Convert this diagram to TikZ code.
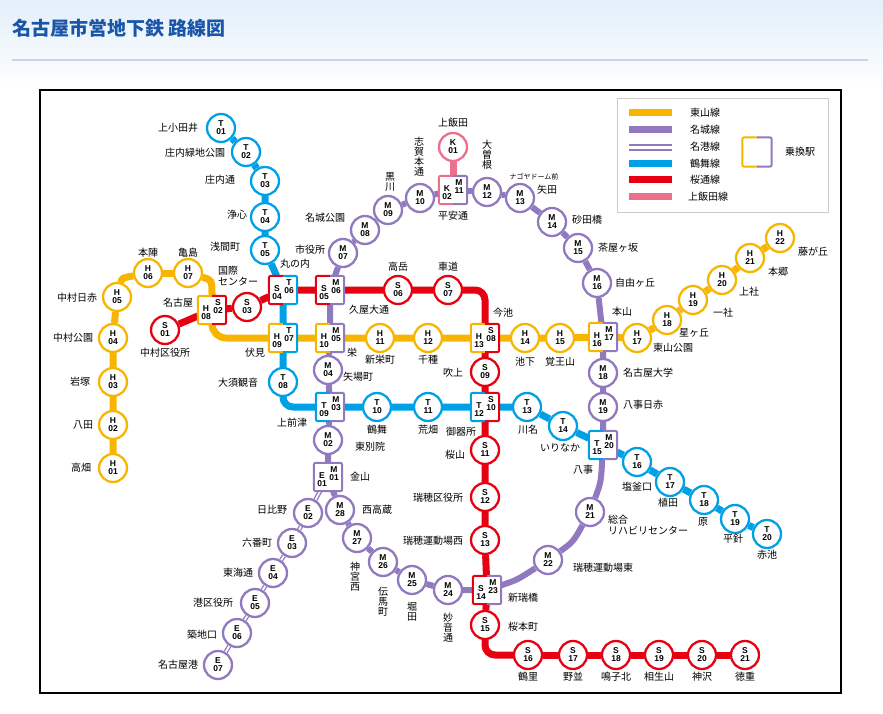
\documentclass[tikz,border=0pt]{standalone}
\usepackage{fontspec}
\setmainfont{Noto Sans CJK JP}
\newfontfamily\codefont{Liberation Sans}[BoldFont={Liberation Sans Bold}]
\usetikzlibrary{backgrounds}
\definecolor{cY}{HTML}{F8B500}
\definecolor{cP}{HTML}{9079BE}
\definecolor{cB}{HTML}{00A0E6}
\definecolor{cR}{HTML}{E60012}
\definecolor{cK}{HTML}{EC6F8C}
\definecolor{cT}{HTML}{1A56A8}
\definecolor{cH}{HTML}{E3EFFA}
\tikzset{
 stc/.style={circle,minimum size=28pt,inner sep=0pt,line width=2.3pt,fill=white,align=center,font=\codefont\bfseries\fontsize{8.5}{8}\selectfont},
 xbox/.style={rectangle,minimum size=28pt,inner sep=0pt,fill=white,rounded corners=2pt},
 xhalf/.style={line width=2pt,rounded corners=2pt},
 ctxt/.style={inner sep=0pt,font=\codefont\bfseries\fontsize{8.5}{8}\selectfont},
 lbl/.style={inner sep=0pt,align=center,font=\fontsize{10}{11}\selectfont},
 vlbl/.style={inner sep=0pt,align=center,font=\fontsize{10}{10}\selectfont},
 rt/.style={line width=7pt},
 rtt/.style={line width=6pt},
 meiko/.style={draw=cP,line width=1.3pt,double=white,double distance=1.8pt},
}
\newcommand\stn[6]{\node[stc,draw=#2] (#1) at (#3,#4) {#5\\#6};}
\newcommand\xst[9]{%
 \node[xbox] (#1) at (#2,#3) {};
 \draw[xhalf,#4] (#1.north) -- (#1.north west) -- (#1.south west) -- (#1.south);
 \draw[xhalf,#5] (#1.north) -- (#1.north east) -- (#1.south east) -- (#1.south);
 \node[ctxt] (#1a) at ([shift={(-6,-1)}]#1.center) {#6};
 \node[ctxt] (#1b) at ([shift={(-6,7)}]#1.center) {#7};
 \node[ctxt] (#1c) at ([shift={(6,-7)}]#1.center) {#8};
 \node[ctxt] (#1d) at ([shift={(6,1)}]#1.center) {#9};}
\newcommand\lb[4]{\node[lbl] (#1) at (#2,#3) {#4};}
\newcommand\vl[4]{\node[vlbl] (#1) at (#2,#3) {#4};}
\begin{document}
\begin{tikzpicture}[x=1pt,y=-1pt]
\useasboundingbox (0,0) rectangle (883,714);
\node[anchor=west,inner sep=0pt,text=cT,font=\bfseries\fontsize{19}{20}\selectfont] (title) at (12,28) {名古屋市営地下鉄 路線図};
% legend
\draw[black!20,line width=0.8pt] (617,98) rectangle (828,212);
\draw[cY,rt] (629,113) -- (672,113); \lb{g1}{705}{113}{東山線}
\draw[cP,rt] (629,130) -- (672,130); \lb{g2}{705}{130}{名城線}
\draw[cP,line width=1.3pt] (629,145) -- (672,145); \draw[cP,line width=1.3pt] (629,150) -- (672,150); \lb{g3}{705}{147}{名港線}
\draw[cB,rt] (629,164) -- (672,164); \lb{g4}{705}{164}{鶴舞線}
\draw[cR,rt] (629,180) -- (672,180); \lb{g5}{705}{180}{桜通線}
\draw[cK,rt] (629,197) -- (672,197); \lb{g6}{708}{197}{上飯田線}
\node[xbox,minimum size=29pt] (gx) at (757,152) {};
\draw[xhalf,cY] (gx.north) -- (gx.north west) -- (gx.south west) -- (gx.south);
\draw[xhalf,cP] (gx.north) -- (gx.north east) -- (gx.south east) -- (gx.south);
\lb{g7}{800}{152}{乗換駅}
% stations
\stn{T01}{cB}{221}{128}{T}{01}\stn{T02}{cB}{246}{152}{T}{02}\stn{T03}{cB}{265}{181}{T}{03}
\stn{T04}{cB}{265}{217}{T}{04}\stn{T05}{cB}{265}{250}{T}{05}\stn{T08}{cB}{283}{382}{T}{08}
\stn{T10}{cB}{377}{407}{T}{10}\stn{T11}{cB}{428}{407}{T}{11}\stn{T13}{cB}{527}{407}{T}{13}
\stn{T14}{cB}{563}{426}{T}{14}\stn{T16}{cB}{637}{462}{T}{16}\stn{T17}{cB}{670}{482}{T}{17}
\stn{T18}{cB}{704}{500}{T}{18}\stn{T19}{cB}{735}{519}{T}{19}\stn{T20}{cB}{767}{534}{T}{20}
\stn{S01}{cR}{165}{330}{S}{01}\stn{S03}{cR}{247}{307}{S}{03}\stn{S06}{cR}{398}{290}{S}{06}
\stn{S07}{cR}{448}{290}{S}{07}\stn{S09}{cR}{485}{372}{S}{09}\stn{S11}{cR}{485}{450}{S}{11}
\stn{S12}{cR}{485}{497}{S}{12}\stn{S13}{cR}{485}{540}{S}{13}\stn{S15}{cR}{485}{625}{S}{15}
\stn{S16}{cR}{528}{655}{S}{16}\stn{S17}{cR}{573}{655}{S}{17}\stn{S18}{cR}{616}{655}{S}{18}
\stn{S19}{cR}{659}{655}{S}{19}\stn{S20}{cR}{702}{655}{S}{20}\stn{S21}{cR}{745}{655}{S}{21}
\stn{H01}{cY}{113}{468}{H}{01}\stn{H02}{cY}{113}{425}{H}{02}\stn{H03}{cY}{113}{382}{H}{03}
\stn{H04}{cY}{113}{338}{H}{04}\stn{H05}{cY}{117}{297}{H}{05}\stn{H06}{cY}{148}{273}{H}{06}
\stn{H07}{cY}{188}{273}{H}{07}\stn{H11}{cY}{380}{338}{H}{11}\stn{H12}{cY}{428}{338}{H}{12}
\stn{H14}{cY}{525}{338}{H}{14}\stn{H15}{cY}{560}{338}{H}{15}\stn{H17}{cY}{637}{338}{H}{17}
\stn{H18}{cY}{667}{320}{H}{18}\stn{H19}{cY}{693}{300}{H}{19}\stn{H20}{cY}{722}{280}{H}{20}
\stn{H21}{cY}{750}{258}{H}{21}\stn{H22}{cY}{780}{238}{H}{22}
\stn{M02}{cP}{328}{440}{M}{02}\stn{M04}{cP}{328}{370}{M}{04}\stn{M07}{cP}{343}{253}{M}{07}
\stn{M08}{cP}{365}{230}{M}{08}\stn{M09}{cP}{388}{210}{M}{09}\stn{M10}{cP}{420}{198}{M}{10}
\stn{M12}{cP}{487}{192}{M}{12}\stn{M13}{cP}{520}{198}{M}{13}\stn{M14}{cP}{552}{222}{M}{14}
\stn{M15}{cP}{578}{248}{M}{15}\stn{M16}{cP}{597}{283}{M}{16}\stn{M18}{cP}{603}{373}{M}{18}
\stn{M19}{cP}{603}{407}{M}{19}\stn{M21}{cP}{590}{512}{M}{21}\stn{M22}{cP}{548}{560}{M}{22}
\stn{M24}{cP}{448}{590}{M}{24}\stn{M25}{cP}{412}{580}{M}{25}\stn{M26}{cP}{383}{562}{M}{26}
\stn{M27}{cP}{357}{538}{M}{27}\stn{M28}{cP}{340}{510}{M}{28}
\stn{E02}{cP}{308}{513}{E}{02}\stn{E03}{cP}{292}{543}{E}{03}\stn{E04}{cP}{273}{573}{E}{04}
\stn{E05}{cP}{255}{603}{E}{05}\stn{E06}{cP}{237}{633}{E}{06}\stn{E07}{cP}{218}{665}{E}{07}
\stn{K01}{cK}{453}{147}{K}{01}
% interchanges
\xst{ST0406}{283}{290}{cR}{cB}{S}{04}{T}{06}
\xst{SM0506}{330}{290}{cR}{cP}{S}{05}{M}{06}
\xst{HS0802}{212}{310}{cY}{cR}{H}{08}{S}{02}
\xst{HT0907}{283}{338}{cY}{cB}{H}{09}{T}{07}
\xst{HM1005}{330}{338}{cY}{cP}{H}{10}{M}{05}
\xst{TM0903}{330}{407}{cB}{cP}{T}{09}{M}{03}
\xst{EM0101}{328}{477}{cP}{cP}{E}{01}{M}{01}
\xst{KM0211}{453}{190}{cK}{cP}{K}{02}{M}{11}
\xst{HS1308}{485}{338}{cY}{cR}{H}{13}{S}{08}
\xst{TS1210}{485}{407}{cB}{cR}{T}{12}{S}{10}
\xst{HM1617}{603}{337}{cY}{cP}{H}{16}{M}{17}
\xst{TM1520}{603}{445}{cB}{cP}{T}{15}{M}{20}
\xst{SM1423}{487}{590}{cR}{cP}{S}{14}{M}{23}
% background and routes
\begin{pgfonlayer}{background}
\shade[top color=cH,bottom color=white] (0,0) rectangle (883,90);
\draw[draw=cT!25,line width=1.5pt] (12,60) -- (868,60);
\fill[white] (40,90) rectangle (841,693);
\draw[line width=2.5pt] (40,90) rectangle (841,693);
\draw[cB,rt,rounded corners=10pt] (T01)--(T02)--(T03)--(T04)--(T05)--(ST0406)--(HT0907)--(T08) |- (TM0903);
\draw[cB,rt] (TM0903)--(T10)--(T11)--(TS1210)--(T13)--(T14)--(TM1520)--(T16)--(T17)--(T18)--(T19)--(T20);
\draw[cR,rt] (S01)--(HS0802)--(S03)--(ST0406)--(SM0506)--(S06)--(S07);
\draw[cR,rt,rounded corners=10pt] (S07) -| (HS1308);
\draw[cR,rt] (HS1308)--(S09)--(TS1210)--(S11)--(S12)--(S13)--(SM1423)--(S15);
\draw[cR,rt,rounded corners=10pt] (S15) |- (S16);
\draw[cR,rt] (S16)--(S17)--(S18)--(S19)--(S20)--(S21);
\draw[cY,rt] (H01)--(H02)--(H03)--(H04)--(H05);
\draw[cY,rt] (H05) .. controls (122,278) .. (H06);
\draw[cY,rt] (H06)--(H07);
\draw[cY,rt] (H07) .. controls (212,280) .. (HS0802);
\draw[cY,rt,rounded corners=14pt] (HS0802) |- (HT0907);
\draw[cY,rt] (HT0907)--(HM1005)--(H11)--(H12)--(HS1308)--(H14)--(H15)--(HM1617)--(H17)--(H18)--(H19)--(H20)--(H21)--(H22);
\draw[cP,rtt] (EM0101)--(M02)--(TM0903)--(M04)--(HM1005)--(SM0506)--(M07)--(M08)--(M09)--(M10)--(KM0211)--(M12)--(M13)--(M14)--(M15)--(M16)--(HM1617)--(M18)--(M19)--(TM1520);
\draw[cP,rtt] (TM1520) .. controls (601,482) .. (M21);
\draw[cP,rtt] (M21) .. controls (573,542) .. (M22);
\draw[cP,rtt] (M22) .. controls (517,580) .. (SM1423);
\draw[cP,rtt] (SM1423)--(M24)--(M25)--(M26)--(M27)--(M28)--(EM0101);
\draw[meiko] (EM0101)--(E02)--(E03)--(E04)--(E05)--(E06)--(E07);
\draw[cK,rt] (K01)--(KM0211);
\end{pgfonlayer}
% labels
\lb{a1}{178}{128}{上小田井}\lb{a2}{195}{153}{庄内緑地公園}\lb{a3}{220}{180}{庄内通}
\lb{a4}{237}{215}{浄心}\lb{a5}{225}{247}{浅間町}\lb{a6}{295}{264}{丸の内}
\node[lbl,align=left,anchor=west] (a7) at (218,276) {国際\\センター};
\lb{a8}{178}{303}{名古屋}\lb{a9}{165}{353}{中村区役所}\lb{a10}{255}{353}{伏見}
\lb{a11}{238}{383}{大須観音}\lb{a12}{292}{423}{上前津}\lb{a13}{377}{430}{鶴舞}
\lb{a14}{428}{430}{荒畑}\lb{a15}{461}{432}{御器所}\lb{a16}{528}{430}{川名}
\lb{a17}{560}{448}{いりなか}\lb{a18}{583}{470}{八事}\lb{a19}{637}{487}{塩釜口}
\lb{a20}{668}{503}{植田}\lb{a21}{703}{522}{原}\lb{a22}{733}{539}{平針}\lb{a23}{767}{555}{赤池}
\lb{b1}{398}{267}{高岳}\lb{b2}{448}{267}{車道}\lb{b3}{369}{310}{久屋大通}\lb{b4}{503}{313}{今池}
\lb{b5}{453}{373}{吹上}\lb{b6}{455}{455}{桜山}\lb{b7}{438}{498}{瑞穂区役所}\lb{b8}{433}{541}{瑞穂運動場西}
\lb{b9}{523}{598}{新瑞橋}\lb{b10}{523}{627}{桜本町}\lb{b11}{528}{677}{鶴里}\lb{b12}{573}{677}{野並}
\lb{b13}{616}{677}{鳴子北}\lb{b14}{659}{677}{相生山}\lb{b15}{702}{677}{神沢}\lb{b16}{745}{677}{徳重}
\lb{c1}{77}{298}{中村日赤}\lb{c2}{148}{253}{本陣}\lb{c3}{188}{253}{亀島}\lb{c4}{73}{338}{中村公園}
\lb{c5}{80}{382}{岩塚}\lb{c6}{83}{425}{八田}\lb{c7}{81}{468}{高畑}\lb{c8}{352}{353}{栄}
\lb{c9}{380}{360}{新栄町}\lb{c10}{428}{360}{千種}\lb{c11}{525}{362}{池下}\lb{c12}{560}{362}{覚王山}
\lb{c13}{622}{312}{本山}\lb{c14}{673}{348}{東山公園}\lb{c15}{694}{333}{星ヶ丘}\lb{c16}{723}{313}{一社}
\lb{c17}{749}{292}{上社}\lb{c18}{778}{272}{本郷}\lb{c19}{813}{252}{藤が丘}
\lb{d1}{358}{377}{矢場町}\lb{d2}{310}{250}{市役所}\lb{d3}{325}{218}{名城公園}
\vl{d4}{390}{182}{黒\\川}\vl{d5}{419}{157}{志\\賀\\本\\通}\lb{d6}{453}{123}{上飯田}
\lb{d7}{453}{216}{平安通}\vl{d8}{487}{155}{大\\曽\\根}
\node[lbl,font=\fontsize{7}{8}\selectfont] (d9) at (534,177) {ナゴヤドーム前};
\lb{d10}{547}{190}{矢田}\lb{d11}{587}{220}{砂田橋}\lb{d12}{618}{248}{茶屋ヶ坂}\lb{d13}{635}{283}{自由ヶ丘}
\lb{d14}{648}{373}{名古屋大学}\lb{d15}{643}{405}{八事日赤}
\node[lbl,align=left,anchor=west] (d16) at (608,525) {総合\\リハビリセンター};
\lb{d17}{603}{568}{瑞穂運動場東}\vl{d18}{448}{628}{妙\\音\\通}\vl{d19}{412}{612}{堀\\田}
\vl{d20}{383}{602}{伝\\馬\\町}\vl{d21}{355}{577}{神\\宮\\西}\lb{d22}{377}{510}{西高蔵}
\lb{d23}{360}{477}{金山}\lb{d24}{370}{447}{東別院}
\lb{e1}{272}{510}{日比野}\lb{e2}{257}{543}{六番町}\lb{e3}{238}{573}{東海通}
\lb{e4}{213}{603}{港区役所}\lb{e5}{202}{635}{築地口}\lb{e6}{178}{665}{名古屋港}
\end{tikzpicture}
\end{document}
